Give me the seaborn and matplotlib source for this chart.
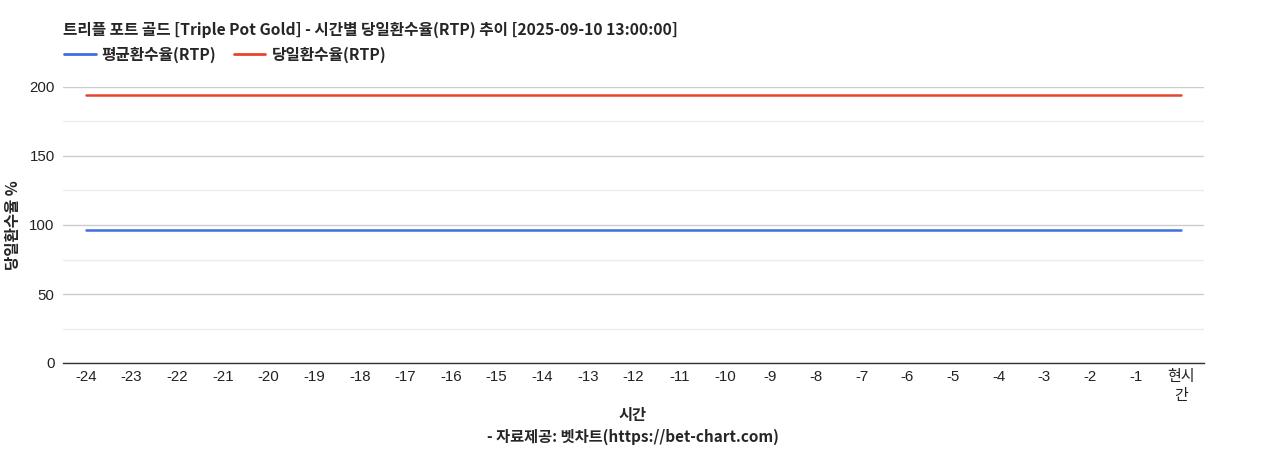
import numpy as np
import pandas as pd
import matplotlib
matplotlib.use("Agg")
import matplotlib.pyplot as plt
import seaborn as sns

# chart data
hours = [str(h) for h in range(-24, 0)] + ["현시\n간"]
avg_rtp = [96.4] * 25
day_rtp = [194.2] * 25
series_names = ["평균환수율(RTP)", "당일환수율(RTP)"]
series_colors = ["#3d6fe0", "#e8432e"]

title = "트리플 포트 골드 [Triple Pot Gold] - 시간별 당일환수율(RTP) 추이 [2025-09-10 13:00:00]"

sns.set_theme(style="white")
plt.rcParams["font.family"] = ["Liberation Sans", "Noto Sans CJK KR"]
KR = ["Noto Sans CJK KR", "Liberation Sans"]

df = pd.DataFrame({"hour": hours, series_names[0]: avg_rtp, series_names[1]: day_rtp})
long = df.melt(id_vars="hour", var_name="series", value_name="rtp")

fig = plt.figure(figsize=(12.68, 4.5), dpi=100)
ax = fig.add_axes([63 / 1268, 1 - 363 / 450, (1204 - 63) / 1268, (363 - 87) / 450])

sns.lineplot(data=long, x="hour", y="rtp", hue="series", hue_order=series_names,
             palette=series_colors, linewidth=1.8, ax=ax, legend=False, sort=False)

ax.set_xlim(-0.5, len(hours) - 0.5)
ax.set_ylim(0, 200)
ax.set_yticks([0, 50, 100, 150, 200])
ax.set_yticks([25, 75, 125, 175], minor=True)
ax.grid(axis="y", which="major", color="#cccccc", linewidth=1)
ax.grid(axis="y", which="minor", color="#ebebeb", linewidth=1)
ax.set_axisbelow(True)
for side in ["top", "right", "left"]:
    ax.spines[side].set_visible(False)
ax.spines["bottom"].set_color("#333333")
ax.spines["bottom"].set_linewidth(1)
ax.tick_params(axis="both", which="both", length=0, labelsize=10.8, labelcolor="#222222")
ax.tick_params(axis="y", pad=6)
ax.tick_params(axis="x", pad=5)
for lbl in ax.get_xticklabels():
    lbl.set_linespacing(1.45)

ax.set_xlabel("")
ax.set_ylabel("당일환수율 %", fontfamily=KR, fontsize=11.2, fontweight="bold", labelpad=4)
ax.yaxis.set_label_coords(-0.037, 0.5)

fig.text(63 / 1268, 1 - 30 / 450, title, fontfamily=KR, fontsize=11.25,
         fontweight="bold", ha="left", va="center")
fig.text(633 / 1268, 1 - 415 / 450, "시간", fontfamily=KR, fontsize=11,
         fontweight="bold", ha="center", va="center")
fig.text(633 / 1268, 1 - 437 / 450, "- 자료제공: 벳차트(https://bet-chart.com)",
         fontfamily=KR, fontsize=11, fontweight="bold", ha="center", va="center")

handles = [plt.Line2D([], [], color=c, linewidth=2) for c in series_colors]
fig.legend(handles, series_names, loc="center left", bbox_to_anchor=(50 / 1268, 1 - 55 / 450),
           ncol=2, frameon=False, handlelength=2.0, columnspacing=1.1, handletextpad=0.4,
           prop={"family": KR, "size": 11.3, "weight": "bold"})

fig.savefig("out.png", dpi=100)
